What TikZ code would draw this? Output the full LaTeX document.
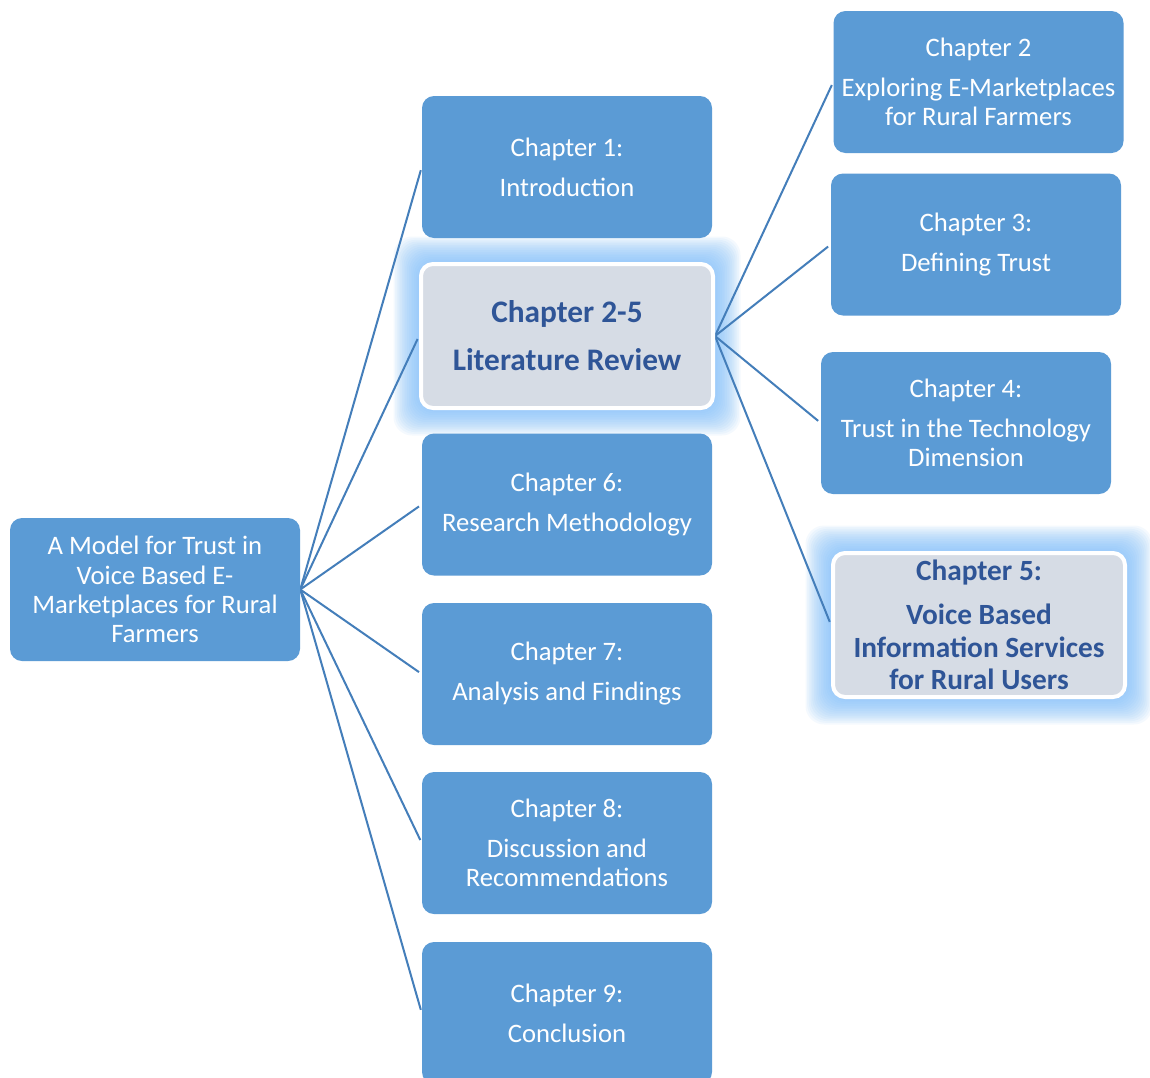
\documentclass[tikz,border=0pt]{standalone}
\usepackage{fontspec}
\setmainfont{Carlito}
\usetikzlibrary{backgrounds}
\definecolor{boxblue}{HTML}{5B9BD5}
\definecolor{linkblue}{RGB}{68,126,186}
\definecolor{hlfill}{HTML}{D6DCE5}
\definecolor{hltext}{HTML}{2F5597}
\definecolor{glowblue}{RGB}{130,192,250}

\begin{document}
\begin{tikzpicture}[x=0.75pt,y=-0.75pt,
  chap/.style={rounded corners=9pt, fill=boxblue, text=white, align=center,
    inner sep=0pt, minimum width=217.5pt, minimum height=106.5pt,
    font=\fontsize{20}{22}\selectfont},
  hl/.style={rounded corners=9pt, fill=hlfill, draw=white, line width=3pt,
    text=hltext, align=center, inner sep=0pt,
    minimum width=219pt, minimum height=108pt},
  link/.style={draw=linkblue, line width=1.5pt, shorten >=2.5pt},
  glow/.style={fill=glowblue, fill opacity=0.085, rounded corners=14pt}
]
\clip (0,0) rectangle (1150,1078);

% root
\node[chap, minimum height=107.25pt] (root) at (155,589.5)
  {A Model for Trust in\\Voice Based E-\\Marketplaces for Rural\\Farmers};

% left column
\node[chap] (c1) at (567,167) {Chapter 1:\\[8pt]Introduction};
\node[hl, font=\fontsize{23.5}{25}\bfseries] (lr) at (567,336)
  {Chapter 2-5\\[11pt]Literature Review};
\node[chap] (c6) at (567,504.5) {Chapter 6:\\[8pt]Research Methodology};
\node[chap] (c7) at (567,674) {Chapter 7:\\[8pt]Analysis and Findings};
\node[chap] (c8) at (567,843) {Chapter 8:\\[8pt]Discussion and\\Recommendations};
\node[chap] (c9) at (567,1013) {Chapter 9:\\[8pt]Conclusion};

% right column
\node[chap] (c2) at (978.5,82) {Chapter 2\\[8pt]Exploring E-Marketplaces\\for Rural Farmers};
\node[chap] (c3) at (976,244.5) {Chapter 3:\\[8pt]Defining Trust};
\node[chap] (c4) at (966,423) {Chapter 4:\\[8pt]Trust in the Technology\\Dimension};
\node[hl, font=\fontsize{22}{24.4}\bfseries] (c5) at (979,625)
  {Chapter 5:\\[9pt]Voice Based\\Information Services\\for Rural Users};

\begin{pgfonlayer}{background}
  \fill[white] (0,0) rectangle (1150,1078);
  % soft halo round the highlighted boxes
  \foreach \n in {lr,c5}{
    \foreach \g in {1,...,15}{
      \fill[glow] ([shift={(-1.7*\g,-1.7*\g)}]\n.north west)
        rectangle ([shift={(1.7*\g,1.7*\g)}]\n.south east);
    }
  }
  % connectors
  \foreach \t in {c1,lr,c6,c7,c8,c9}{
    \draw[link] (root.east) -- (\t.west);
  }
  \foreach \t in {c2,c3,c4,c5}{
    \draw[link] (lr.east) -- (\t.west);
  }
\end{pgfonlayer}
\end{tikzpicture}
\end{document}
